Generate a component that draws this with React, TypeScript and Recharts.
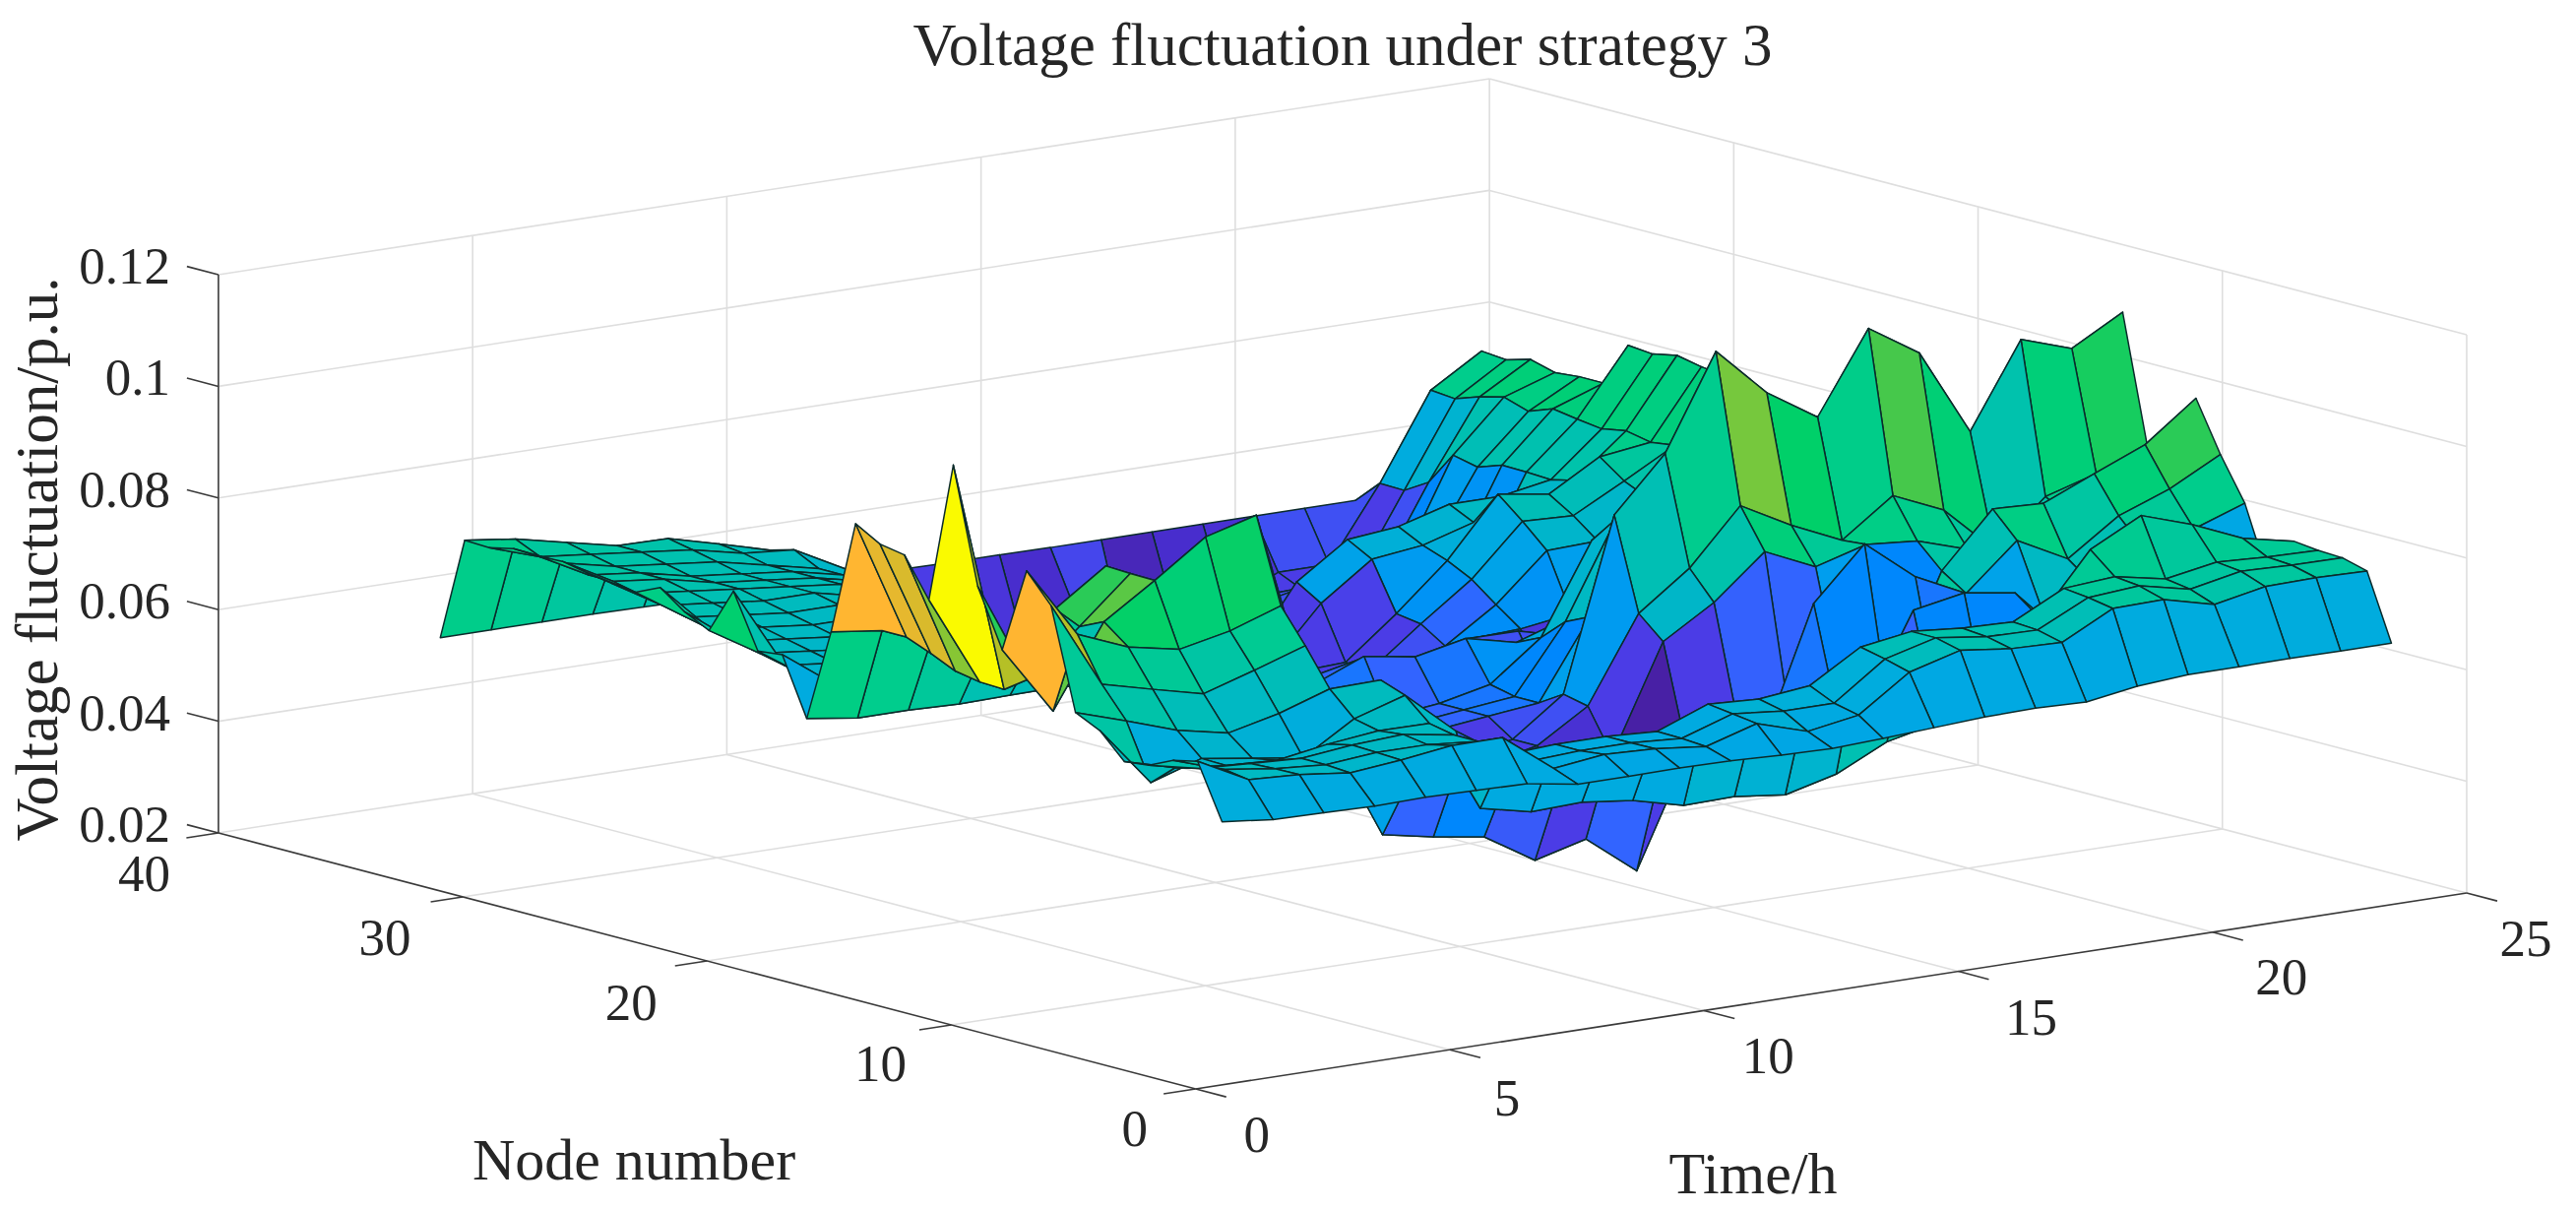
import React from 'react';
import { ScatterChart, Scatter, XAxis, YAxis, ReferenceLine } from 'recharts';

const W = 2617, H = 1230;
const title = 'Voltage fluctuation under strategy 3';
const timeTicks = [0, 5, 10, 15, 20, 25];
const nodeTicks = [0, 10, 20, 30, 40];
const zTicks = [0.02, 0.04, 0.06, 0.08, 0.1, 0.12];
const hours = [1,2,3,4,5,6,7,8,9,10,11,12,13,14,15,16,17,18,19,20,21,22,23,24];

// fluctuation x 1000, one list per node, one value per hour
const n01=[65.3,64.3,64.1,63.9,64.1,63.9,63.7,62.2,62.2,62.3,62.2,61.8,61.6,62.0,62.5,63.0,63.2,62.9,64.3,65.0,65.0,65.1,65.0,65.0];
const n02=[75.0,70.3,69.8,68.7,69.6,70.8,70.8,63.9,65.0,64.6,63.6,66.3,63.5,65.0,71.3,73.8,72.7,72.4,77.1,77.3,75.0,76.8,77.0,76.8];
const n03=[74,71,69.7,69,69.8,69.8,69,64,64.5,64.5,63.9,66.9,66,66,72.5,74.9,73.7,73.5,77.9,78.6,76.6,78.4,78.1,78.0];
const n04=[72,70,69.5,69,70,70.5,69,64,64.5,64.5,64,67.5,67,68,73.5,74.9,74.1,73.8,78.4,79.1,77.3,78.9,78.4,78.2];
const n05=[71.5,69,68,67.5,69,70,69.9,53.3,51.3,51.6,50.5,48.2,48.4,47.3,49.6,54,56,56,72,82.8,87.5,84.5,80.6,78.7];
const n06=[75.9,65.2,68.1,66.7,65.4,71,73.8,66,60,58,55,53,52,52,54,58,75,76.7,75.3,66,64,62,62,70.6];
const n07=[78,75.1,72,70.1,72.2,75.2,75.4,56,54,52,50,50,50,52,55,56,56,55,60,70,73,78,80,83.2];
const n08=[96,80.5,78.2,76,78.8,81.8,60,54,56,53,50,54,50,50,52,75.3,84.6,77.3,72.9,81,76.3,82.6,86,90.8];
const n09=[101.1,88.3,84.6,82.8,84.7,87.8,62,44,42.2,40.8,35.2,37.6,30.5,50,53.7,54,58,56,75.8,85.5,85.1,89,92.8,99.7];
const n10=[85.8,73.4,88,94,100.4,102.9,70,58,55,50,47,47,50,69,74.6,82.3,78.2,80.8,80,77.1,75,80,85,94.3];
const n11=[96,78,86,94.1,88,80,65,58,55,52,50,52,57.7,72.9,79.6,89.4,84.5,80.4,87,83,74.5,82.6,85.3,89.1];
const n12=[116.6,75,88,94.3,90,85,62,58,55,52,50,52,58.7,89.4,99,115.9,107.1,101.3,115.8,110,94.5,109.6,106.6,111.7];
const n13=[91.3,75.2,80,85,80,75,62,58,56,55,54,55,56,70,85,90,85,80,75,75,85,85,85,85];
const n14=[98.2,76,78,80,76,72,62,58,56,55,54,55,56,68,85,88,85,80,75,75,86,85,85,85];
const n15=[99,78,76,75,72,70,62,58,56,55,54,55,57,64,80,85,82,78,75,76,88,86,85,85];
const n16=[101.5,79.8,76,72,70,68,63,60,58,60,63.7,62.2,64.1,62,65,72,75,75,75,78,90,86,85,84];
const n17=[81,79.8,77.6,73.5,71.8,70,66,62,58,56,54,52,52,52,52,60,63,68,73,78,90,86,85,83];
const n18=[64.3,63,63,62.7,62.9,63,62,60,58,56,58,59.9,58.5,60.4,60.3,58,62,66,72,78,90,86,84,82];
const n19=[74.6,68,67,66,66,65,62,60,56,52,50,48,48,50,50,48.4,58,64,72,78,90,86,84,82];
const n20=[74.1,68,67,66,66,65,63,60,56,52,50,50,56.2,54.7,56.6,57,58.3,65,73,80,90,86,84,82];
const n21=[83.7,69,68,67,67,66,64,60,56,52,50,50,52,52,54.2,60.2,68.5,68.8,75,80,92,86,83,80];
const n22=[75.5,70,69,68,68,67,64,60,56,52,50,50,50,50,57,63.6,72.6,72.2,77,82,93,85,82,78];
const n23=[77.7,71,70,69,69,68,65,60,55,52,50,50,50,50.4,57.7,65.8,76.3,74.9,80.2,81.4,93.5,84,80,76];
const n24=[80.9,72,71,70,70,69,66,60,54,50,48,48,50,59.8,66.3,67.4,70.1,68.8,74.8,82.3,94.4,82,78,74];
const n25=[78.9,73,72,71,71,70,67,60,54,50,48,48,50,62.5,68.7,69.6,72.2,72.2,73.8,81.5,93.5,80,76,72];
const n26=[79.4,74,73,72,72,70,68,60,54,50,48,48,48,50,52,54,56,57,74,82.1,93.9,80,75,72];
const n27=[80.1,75,74,73,72,71,69,60,54,50,48,48,48,50,52,54,56,57,74.1,82.8,86,78,74,72];
const n28=[81,76,75,73,72,71,69,60,54,50,48,48,48,50,52,54,56,58,72.6,81.2,86,78,74,72];
const n29=[80.8,76,75,73,72,71,69,60,54,50,48,48,48,50,52,54,56,56,73.6,82.6,85.6,78,74,72];
const n30=[81,77,75,74,73,71,69,60,54,50,48,48,48,50,52,52,52,52,67.6,81.5,86.8,78,74,72];
const n31=[80,77,76,75,74,72,71.2,66.4,54,50,48,47,48,50,50,50,50,50,65,80,85.6,78,74,72];
const n32=[80.2,79,77,75,74.9,72.5,70,66,54,50,48,46,51,43,46,47,52,52,65.1,80.4,86,78,74,72];
const n33=[61.6,61.6,61.6,61.6,61.5,61.3,61.2,61.2,61.2,61.1,61,61,60.9,60.9,60.9,60.9,60.9,60.9,60.9,66,72,72,72,72];
const rows=[n01,n02,n03,n04,n05,n06,n07,n08,n09,n10,n11,n12,n13,n14,n15,n16,n17,n18,n19,n20,n21,n22,n23,n24,n25,n26,n27,n28,n29,n30,n31,n32,n33];

const stopValues=[40,46,50,54,56,58,61,65,70,75,80,84.5,87,89.5,95,100.5,110,116.6];
const stopColours=[[72,32,165],[72,45,205],[75,60,230],[50,100,255],[0,135,252],[0,158,238],[0,165,230],[0,172,222],[0,185,195],[0,195,170],[0,205,140],[0,208,105],[70,200,75],[120,200,60],[165,195,35],[255,180,50],[255,200,40],[250,250,0]];

function colour(v:number){
  if(v<=stopValues[0]){const c=stopColours[0];return `rgb(${c})`;}
  for(let i=1;i<stopValues.length;i++){
    if(v<=stopValues[i]){
      const f=(v-stopValues[i-1])/(stopValues[i]-stopValues[i-1]);
      const a=stopColours[i-1],b=stopColours[i];
      return `rgb(${a.map((x,k)=>Math.round(x+(b[k]-x)*f)).join(',')})`;
    }
  }
  return 'rgb(250,250,0)';
}

// view of the 3D box on the page
const O={x:1214.7,y:1106}, T={x:51.65,y:-7.96}, N={x:-24.82,y:-6.5}, Zs=5670;
const proj=(t:number,n:number,z:number)=>({x:O.x+T.x*t+N.x*n,y:O.y+T.y*t+N.y*n-Zs*(z-0.02)});

type Cell={x:number;y:number;poly:{x:number;y:number}[];fill:string;depth:number};
const cells:Cell[]=[];
for(let i=0;i<rows.length-1;i++){
  for(let j=0;j<hours.length-1;j++){
    const v=(a:number,b:number)=>proj(hours[b],a+1,rows[a][b]/1000);
    const poly=[v(i,j),v(i,j+1),v(i+1,j+1),v(i+1,j)];
    cells.push({x:poly[0].x,y:poly[0].y,poly,fill:colour(rows[i][j]),depth:T.y*(hours[j]+.5)+N.y*(i+1.5)});
  }
}
cells.sort((a,b)=>a.depth-b.depth);

const CellShape=(p:any)=>{
  const c:Cell=p.payload;const ox=p.cx-c.x,oy=p.cy-c.y;
  return <polygon points={c.poly.map(q=>`${q.x+ox},${q.y+oy}`).join(' ')} fill={c.fill} stroke="#0b2b2b" strokeWidth={1.5} strokeLinejoin="round"/>;
};

type Lbl={x:number;y:number;text:string;size?:number;anchor?:string;rot?:number};
const nodeOffset:Record<number,number[]>={0:[-62,58],10:[-72,57],20:[-77,60],30:[-79,59]};
const timeOffset:Record<number,number[]>={0:[62,64],5:[58,67],10:[65,64],15:[74,64],20:[70,63],25:[60,64]};
const labels:Lbl[]=[
  {x:1364,y:66,text:title,size:61,anchor:'middle'},
  {x:644,y:1198,text:'Node number',size:60,anchor:'middle'},
  {x:1781,y:1212,text:'Time/h',size:60,anchor:'middle'},
  {x:58,y:568,text:'Voltage fluctuation/p.u.',size:61,anchor:'middle',rot:-90},
  ...zTicks.map(v=>{const p=proj(0,40,v);return {x:173,y:p.y+9,text:String(v),anchor:'end'};}),
  ...nodeTicks.map(v=>{const p=proj(0,v,0.02);
    return v===40?{x:173,y:905,text:'40',anchor:'end'}:{x:p.x+nodeOffset[v][0],y:p.y+nodeOffset[v][1],text:String(v),anchor:'middle'};}),
  ...timeTicks.map(v=>{const p=proj(v,0,0.02);return {x:p.x+timeOffset[v][0],y:p.y+timeOffset[v][1],text:String(v),anchor:'middle'};}),
];
const LabelShape=(p:any)=>{
  const l:Lbl=p.payload;
  return <text x={p.cx} y={p.cy} fontFamily="'Liberation Serif'" fontSize={l.size??53} fill="#262626" textAnchor={l.anchor as any}
    transform={l.rot?`rotate(${l.rot} ${p.cx} ${p.cy})`:undefined}>{l.text}</text>;
};

const seg=(a:{x:number;y:number},b:{x:number;y:number})=>[{x:a.x,y:a.y},{x:b.x,y:b.y}] as any;
const GRID='#dedede',AX='#3a3a3a';

export default function App(){
  const grid:any[]=[];const axes:any[]=[];
  zTicks.forEach(v=>{
    grid.push(seg(proj(0,40,v),proj(25,40,v)),seg(proj(25,40,v),proj(25,0,v)));
    const a=proj(0,40,v);axes.push(seg(a,{x:a.x+N.x*1.29,y:a.y+N.y*1.29}));
  });
  timeTicks.forEach(t=>{
    if(t>0)grid.push(seg(proj(t,40,.02),proj(t,40,.12)));
    if(t>0&&t<25)grid.push(seg(proj(t,0,.02),proj(t,40,.02)));
    const a=proj(t,0,.02);axes.push(seg(a,{x:a.x-N.x*1.25,y:a.y-N.y*1.25}));
  });
  nodeTicks.forEach(n=>{
    if(n<40)grid.push(seg(proj(25,n,.02),proj(25,n,.12)));
    if(n>0&&n<40)grid.push(seg(proj(0,n,.02),proj(25,n,.02)));
    const a=proj(0,n,.02);axes.push(seg(a,{x:a.x-T.x*.63,y:a.y-T.y*.63}));
  });
  axes.push(seg(proj(0,0,.02),proj(25,0,.02)),seg(proj(0,0,.02),proj(0,40,.02)),seg(proj(0,40,.02),proj(0,40,.12)));
  return (
    <div style={{position:'absolute',left:0,top:0,width:W,height:H,overflow:'hidden',background:'#fff'}}>
      <ScatterChart width={W} height={H} margin={{top:0,right:0,bottom:0,left:0}}>
        <XAxis type="number" dataKey="x" domain={[0,W]} hide allowDataOverflow/>
        <YAxis type="number" dataKey="y" domain={[0,H]} reversed hide allowDataOverflow/>
        {grid.map((s,i)=><ReferenceLine key={'g'+i} segment={s} stroke={GRID} strokeWidth={1.6} ifOverflow="visible"/>)}
        {axes.map((s,i)=><ReferenceLine key={'a'+i} segment={s} stroke={AX} strokeWidth={1.6} ifOverflow="visible"/>)}
        <Scatter data={cells} shape={CellShape} isAnimationActive={false}/>
        <Scatter data={labels} shape={LabelShape} isAnimationActive={false}/>
      </ScatterChart>
    </div>
  );
}
